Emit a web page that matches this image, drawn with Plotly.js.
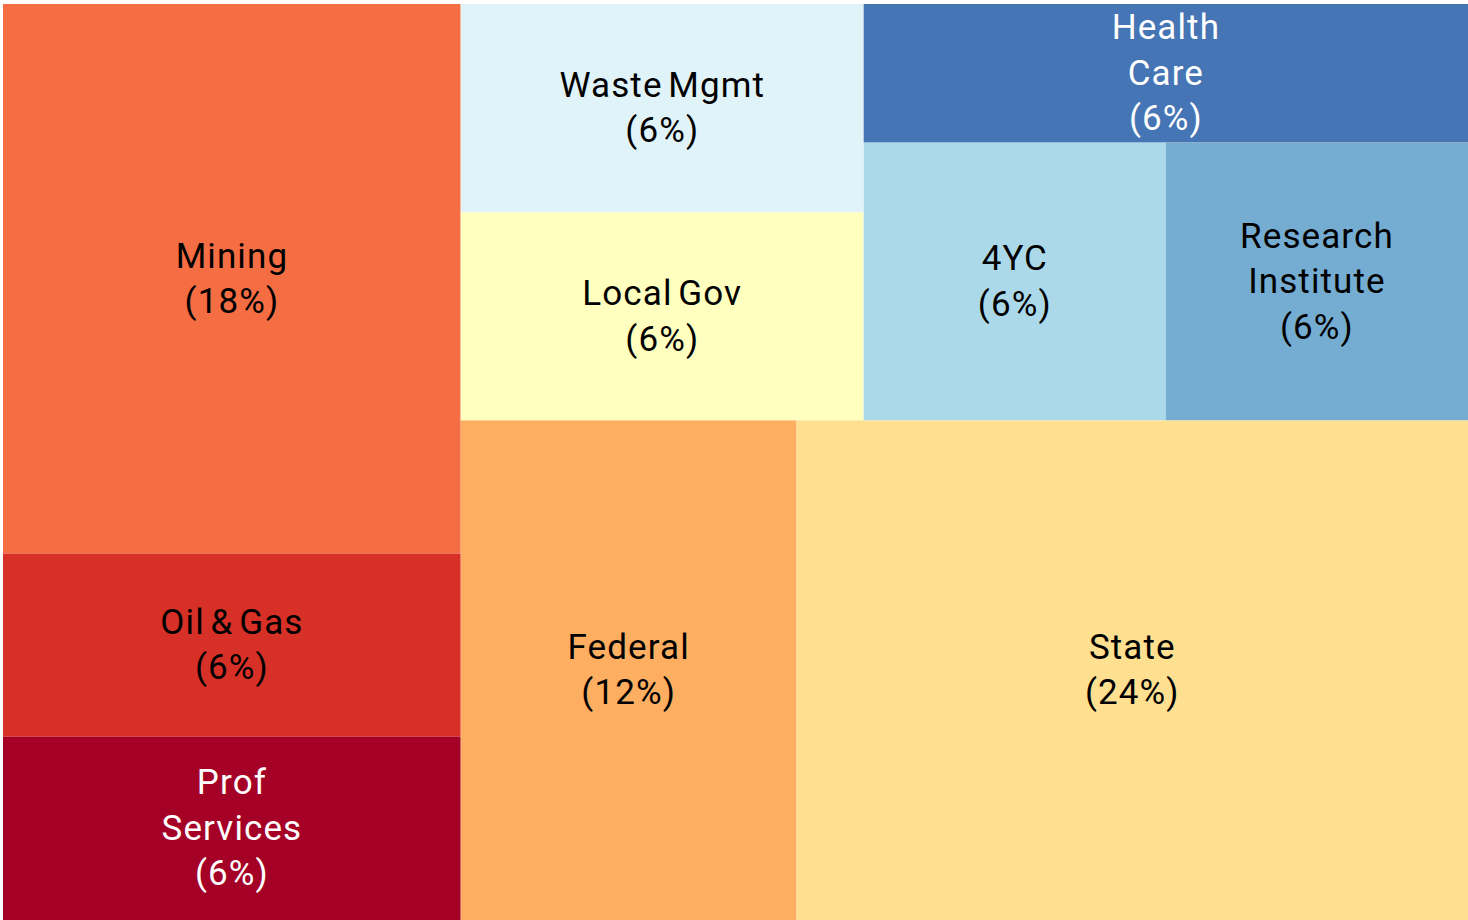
<!DOCTYPE html>
<html>
<head>
<meta charset="utf-8">
<script src="https://cdn.plot.ly/plotly-3.0.1.min.js"></script>
<style>
html,body{margin:0;padding:0;background:#fff;}
#chart{width:1468px;height:920px;}
#chart text{letter-spacing:1.1px;word-spacing:-4px;}
</style>
</head>
<body>
<div id="chart"></div>
<script>
// Leaf categories
const categories = ["Mining", "Oil & Gas", "Prof<br>Services", "Waste Mgmt", "Local Gov", "Health<br>Care", "4YC", "Research<br>Institute", "Federal", "State"];
const values = [3, 1, 1, 1, 1, 1, 1, 1, 2, 4];
const pctLabels = ["18%", "6%", "6%", "6%", "6%", "6%", "6%", "6%", "12%", "24%"];
const colors = ["#F46D43", "#D73027", "#A50026", "#E0F3F8", "#FFFFBF", "#4575B4", "#ABD9E9", "#74ADD1", "#FDAE61", "#FEE090"];
const textColors = ["#000", "#000", "#fff", "#000", "#000", "#fff", "#000", "#000", "#000", "#000"];
// grouping of each leaf into the layout hierarchy
const leafParents = ["L", "L", "L", "WL", "WL", "HX", "X", "X", "B", "B"];
const groupIds = ["root", "L", "R", "T", "B", "WL", "HX"];
const groupParents = ["", "root", "root", "R", "R", "T", "T"];
const lateGroupIds = ["X"];
const lateGroupParents = ["HX"];

const ids = [], parents = [], labels = [], vals = [], texts = [], mcolors = [], tcolors = [];
function addGroup(id, parent) {
  ids.push(id); parents.push(parent); labels.push(""); vals.push(0);
  texts.push(""); mcolors.push("#ffffff"); tcolors.push("#000");
}
groupIds.forEach((g, i) => addGroup(g, groupParents[i]));
categories.forEach((c, i) => {
  ids.push("leaf" + i); parents.push(leafParents[i]); labels.push(c); vals.push(values[i]);
  texts.push(c + "<br>(" + pctLabels[i] + ")"); mcolors.push(colors[i]); tcolors.push(textColors[i]);
});
lateGroupIds.forEach((g, i) => addGroup(g, lateGroupParents[i]));

const trace = {
  type: "treemap",
  ids: ids,
  parents: parents,
  labels: labels,
  values: vals,
  text: texts,
  branchvalues: "remainder",
  sort: false,
  textinfo: "text",
  textposition: "middle center",
  textfont: { family: "Roboto, sans-serif", size: 35, color: tcolors },
  marker: { colors: mcolors, line: { width: 0 }, pad: { t: 0, l: 0, r: 0, b: 0 } },
  leaf: { opacity: 1 },
  tiling: { packing: "slice-dice", pad: 0 },
  pathbar: { visible: false },
  hoverinfo: "skip"
};

const layout = {
  width: 1468, height: 920,
  margin: { l: 3, r: 0, t: 4, b: 0 },
  paper_bgcolor: "#ffffff",
  font: { family: "Roboto, sans-serif" },
  uniformtext: { mode: "show", minsize: 35 },
  showlegend: false
};

Plotly.newPlot("chart", [trace], layout, { displayModeBar: false, staticPlot: true });
</script>
</body>
</html>
